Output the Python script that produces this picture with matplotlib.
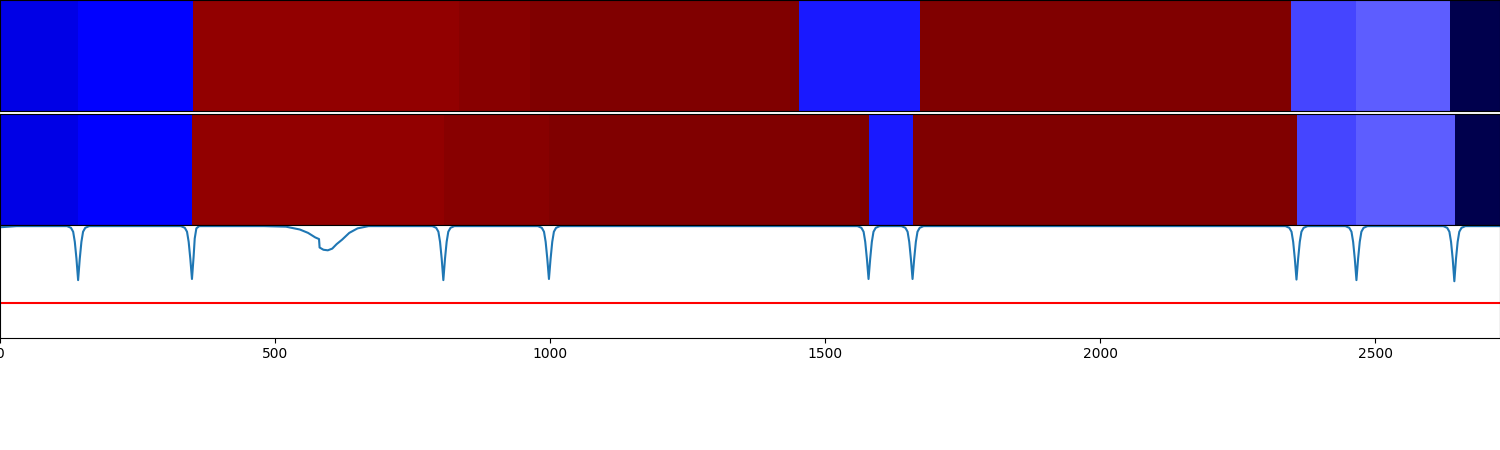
"""
Segment comparison strip: two label rows (seismic colour scale) above the
boundary score trace with its threshold.
"""
import matplotlib
matplotlib.use('Agg')
import matplotlib.pyplot as plt
import numpy as np

X_MAX = 2727

# Row 1: segment edges and values (0..1 on the seismic scale)
top_edges = [0, 142, 351, 835, 964, 1453, 1672, 2347, 2465, 2636, 2727]
top_values = [0.215, 0.25, 0.962, 0.983, 1.0, 0.2745, 1.0, 0.32, 0.343, 0.0]

# Row 2: segment edges and values
mid_edges = [0, 141, 349, 807, 998, 1580, 1660, 2358, 2466, 2645, 2727]
mid_values = [0.215, 0.25, 0.962, 0.983, 1.0, 0.2745, 1.0, 0.32, 0.343, 0.0]

# Boundary score trace
line_x = [0, 30,
          122, 129, 133, 136, 139, 142, 145, 148, 151, 155, 162,
          329, 336, 340, 343, 346, 349, 352, 354, 357, 362,
          480, 520, 545, 560, 573, 580, 581, 588, 596, 604, 612, 622, 635, 650, 670,
          786, 793, 797, 800, 803, 806, 809, 812, 815, 819, 826,
          978, 985, 989, 992, 995, 998, 1001, 1004, 1007, 1011, 1018,
          1559, 1566, 1570, 1573, 1576, 1579, 1582, 1585, 1588, 1592, 1599,
          1639, 1646, 1650, 1653, 1656, 1659, 1662, 1665, 1668, 1672, 1679,
          2337, 2344, 2348, 2351, 2354, 2357, 2360, 2363, 2366, 2370, 2377,
          2446, 2453, 2457, 2460, 2463, 2466, 2469, 2472, 2475, 2479, 2486,
          2624, 2631, 2635, 2638, 2641, 2644, 2647, 2650, 2653, 2657, 2664,
          2727]
line_y = [0.98, 0.99,
          0.99, 0.975, 0.94, 0.85, 0.70, 0.51, 0.70, 0.85, 0.94, 0.975, 0.99,
          0.99, 0.975, 0.94, 0.85, 0.70, 0.52, 0.72, 0.88, 0.97, 0.99,
          0.99, 0.985, 0.96, 0.93, 0.89, 0.875, 0.80, 0.78, 0.775, 0.79, 0.83, 0.87, 0.93, 0.97, 0.99,
          0.99, 0.975, 0.94, 0.85, 0.70, 0.51, 0.70, 0.85, 0.94, 0.975, 0.99,
          0.99, 0.975, 0.94, 0.85, 0.70, 0.52, 0.70, 0.85, 0.94, 0.975, 0.99,
          0.99, 0.975, 0.94, 0.85, 0.70, 0.52, 0.70, 0.85, 0.94, 0.975, 0.99,
          0.99, 0.975, 0.94, 0.85, 0.70, 0.52, 0.70, 0.85, 0.94, 0.975, 0.99,
          0.99, 0.975, 0.94, 0.85, 0.70, 0.515, 0.70, 0.85, 0.94, 0.975, 0.99,
          0.99, 0.975, 0.94, 0.85, 0.70, 0.51, 0.70, 0.85, 0.94, 0.975, 0.99,
          0.99, 0.975, 0.94, 0.85, 0.70, 0.50, 0.70, 0.85, 0.94, 0.975, 0.99,
          0.99]

threshold = 0.31


def draw_row(ax, edges, values):
    """Draw one row of segments as a 1 x N colour mesh."""
    ax.pcolormesh(edges, [0, 1], np.array([values]),
                  cmap='seismic', vmin=0, vmax=1, shading='flat')
    ax.set_xlim(0, X_MAX)
    ax.set_ylim(0, 1)
    ax.set_xticks([])
    ax.set_yticks([])


def main():
    fig = plt.figure(figsize=(15, 4.5), dpi=100)
    # thin white gap between the two label rows, none above the trace
    ax_top = fig.add_axes([0, 0.7538, 1, 0.2462])
    ax_mid = fig.add_axes([0, 0.5, 1, 0.2473])
    ax_line = fig.add_axes([0, 0.25, 1, 0.25])

    draw_row(ax_top, top_edges, top_values)
    draw_row(ax_mid, mid_edges, mid_values)

    ax_line.plot(line_x, line_y)
    ax_line.axhline(threshold, color='r')
    ax_line.set_xlim(0, X_MAX)
    ax_line.set_ylim(0, 1)
    ax_line.set_yticks([])

    plt.savefig('out.png', dpi=100)
    plt.close()


if __name__ == '__main__':
    main()
